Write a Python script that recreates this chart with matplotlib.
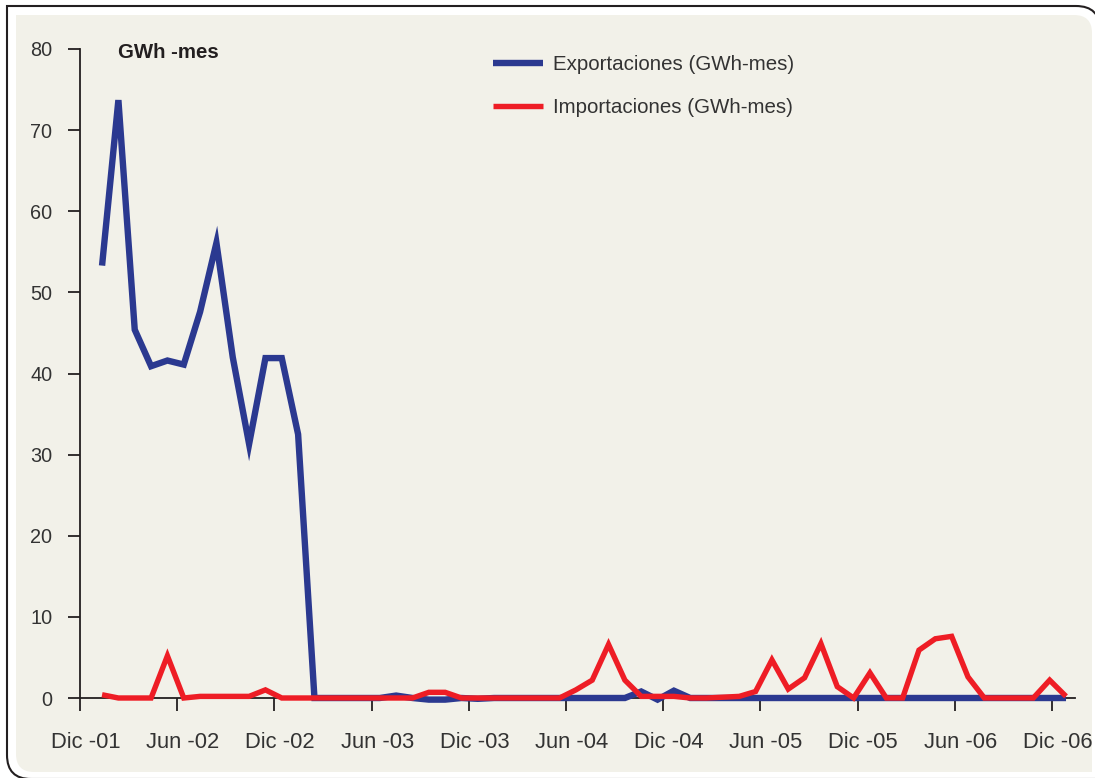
import numpy as np
import matplotlib
matplotlib.use("Agg")
import matplotlib.pyplot as plt
from matplotlib.path import Path
from matplotlib.patches import PathPatch
import matplotlib.transforms as mtransforms

# ---------------- data (monthly, Jan-02 .. Dec-06) ----------------
tick_labels = ["Dic -01", "Jun -02", "Dic -02", "Jun -03", "Dic -03", "Jun -04",
               "Dic -04", "Jun -05", "Dic -05", "Jun -06", "Dic -06"]

exportaciones = [53.3, 73.7, 45.4, 40.9, 41.6, 41.1, 47.6, 56.1, 42.0, 31.3,
                 41.9, 41.9, 32.5, 0.0, 0.0, 0.0, 0.0, 0.0, 0.3, 0.0,
                 -0.2, -0.2, 0.0, -0.1, 0.0, 0.0, 0.0, 0.0, 0.0, 0.0,
                 0.0, 0.0, 0.0, 0.8, -0.2, 0.9, 0.0, 0.0, 0.0, 0.0,
                 0.0, 0.0, 0.0, 0.0, 0.0, 0.0, 0.0, 0.0, 0.0, 0.0,
                 0.0, 0.0, 0.0, 0.0, 0.0, 0.0, 0.0, 0.0, 0.0, 0.0]

importaciones = [0.4, 0.0, 0.0, 0.0, 5.2, 0.0, 0.2, 0.2, 0.2, 0.2,
                 1.0, 0.0, 0.0, 0.0, 0.0, 0.0, 0.0, 0.0, 0.0, 0.0,
                 0.7, 0.7, 0.0, 0.0, 0.0, 0.0, 0.0, 0.0, 0.0, 1.0,
                 2.2, 6.6, 2.2, 0.2, 0.2, 0.2, 0.0, 0.0, 0.1, 0.2,
                 0.8, 4.7, 1.1, 2.5, 6.7, 1.4, 0.0, 3.1, 0.0, 0.0,
                 5.9, 7.3, 7.6, 2.6, 0.0, 0.0, 0.0, 0.0, 2.2, 0.2]

series_labels = ["Exportaciones (GWh-mes)", "Importaciones (GWh-mes)"]

BLUE = "#2b3990"
RED = "#ee1d25"
BEIGE = "#f2f1e9"
DARK = "#231f20"
TXT = "#333333"

W, H = 1095, 778
fig = plt.figure(figsize=(W / 100, H / 100), dpi=100)
fig.patch.set_facecolor("white")

# ---------------- background panel ----------------
bg = fig.add_axes([0, 0, 1, 1], zorder=-5)
bg.set_xlim(0, W)
bg.set_ylim(H, 0)
bg.axis("off")


def panel_path(x0, y0, x1, y1, r):
    verts = [(x0, y0), (x1 - r, y0), (x1, y0), (x1, y0 + r), (x1, y1),
             (x0 + r, y1), (x0, y1), (x0, y1 - r), (x0, y0)]
    codes = [Path.MOVETO, Path.LINETO, Path.CURVE3, Path.CURVE3, Path.LINETO,
             Path.LINETO, Path.CURVE3, Path.CURVE3, Path.CLOSEPOLY]
    return Path(verts, codes)


bg.add_patch(PathPatch(panel_path(7, 6, 1100, 779, 24), facecolor="white",
                       edgecolor=DARK, lw=1.5))
bg.add_patch(PathPatch(panel_path(16, 15, 1092, 772, 18), facecolor=BEIGE,
                       edgecolor="none"))

# ---------------- main axes ----------------
left_px, right_px, top_px, bot_px = 80, 1075, 49, 698
ax = fig.add_axes([left_px / W, 1 - bot_px / H, (right_px - left_px) / W,
                   (bot_px - top_px) / H])
ax.set_facecolor("none")

x = np.arange(len(exportaciones))
ax.plot(x, exportaciones, color=BLUE, lw=4.6, solid_joinstyle="miter",
        solid_capstyle="butt", clip_on=False, zorder=3, label=series_labels[0])
ax.plot(x, importaciones, color=RED, lw=3.9, solid_joinstyle="miter",
        solid_capstyle="butt", clip_on=False, zorder=4, label=series_labels[1])

ax.set_xlim(-1.35, 59.55)
ax.set_ylim(0, 80)

for s in ["top", "right"]:
    ax.spines[s].set_visible(False)
for s in ["left", "bottom"]:
    ax.spines[s].set_color(DARK)
    ax.spines[s].set_linewidth(1.3)
    ax.spines[s].set_zorder(2)

ax.set_yticks(np.arange(0, 81, 10))
ax.set_yticklabels([str(v) for v in range(0, 81, 10)])
tick_pos = [-1.35 + 5.95 * i for i in range(len(tick_labels))]
ax.set_xticks(tick_pos)
ax.set_xticklabels(tick_labels)

ax.tick_params(axis="both", direction="out", length=9, width=1.3, color=DARK,
               labelcolor=TXT)
ax.tick_params(axis="y", pad=11, labelsize=14.3)
ax.tick_params(axis="x", pad=15.5, labelsize=15.8)
for lab in ax.get_yticklabels() + ax.get_xticklabels():
    lab.set_family("Liberation Sans")
offset = mtransforms.ScaledTranslation(5.5 / 100, 0, fig.dpi_scale_trans)
for lab in ax.get_xticklabels():
    lab.set_transform(lab.get_transform() + offset)

ax.text((118 - left_px) / (right_px - left_px), (bot_px - 53) / (bot_px - top_px),
        "GWh -mes", transform=ax.transAxes, ha="left", va="center",
        fontsize=14.7, fontweight="bold", color=DARK, family="Liberation Sans")

leg = ax.legend(loc="upper left",
                bbox_to_anchor=((493 - left_px) / (right_px - left_px),
                                (bot_px - 55) / (bot_px - top_px)),
                frameon=False, handlelength=2.45,
                handletextpad=0.47, labelspacing=1.17, borderpad=0,
                borderaxespad=0, prop={"family": "Liberation Sans", "size": 14.8})
for t in leg.get_texts():
    t.set_color(TXT)

fig.savefig("out.png", dpi=100, facecolor="white")
